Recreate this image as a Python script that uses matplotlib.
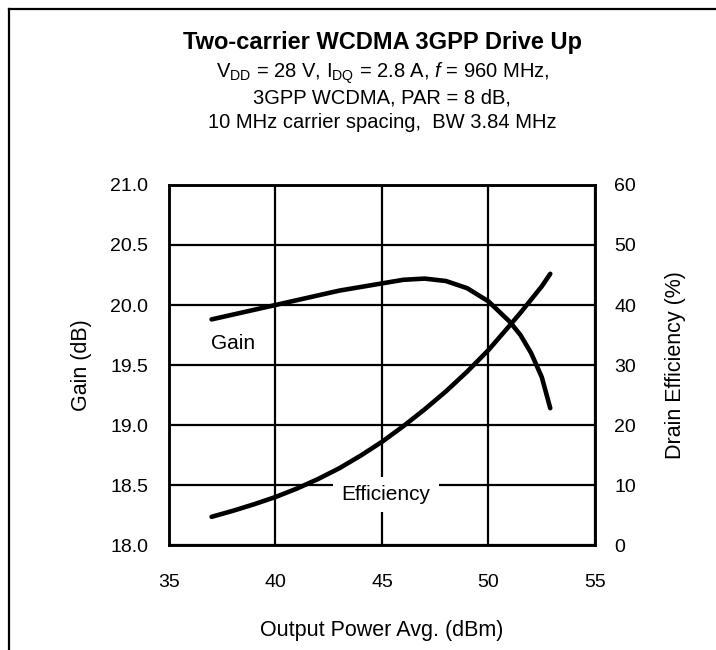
import matplotlib
matplotlib.use("Agg")
import matplotlib.pyplot as plt
from matplotlib.lines import Line2D

plt.rcParams['font.family'] = ['Liberation Sans', 'DejaVu Sans']
plt.rcParams['mathtext.fontset'] = 'custom'
plt.rcParams['mathtext.rm'] = 'Liberation Sans'
plt.rcParams['mathtext.it'] = 'Liberation Sans:italic'

# data
pout = [37, 38, 39, 40, 41, 42, 43, 44, 45, 46, 47, 48, 49, 50, 51, 51.5, 52, 52.5, 52.9]
gain = [19.88, 19.92, 19.96, 20.00, 20.04, 20.08, 20.12, 20.15, 20.18, 20.21, 20.22,
        20.20, 20.14, 20.03, 19.86, 19.75, 19.60, 19.40, 19.14]
eff = [4.7, 5.7, 6.8, 8.0, 9.4, 11.0, 12.8, 14.9, 17.2, 19.8, 22.6, 25.6, 28.9, 32.5,
       36.6, 38.7, 40.9, 43.1, 45.2]

xticks = [35, 40, 45, 50, 55]
gticks = [18.0, 18.5, 19.0, 19.5, 20.0, 20.5, 21.0]
eticks = [0, 10, 20, 30, 40, 50, 60]

fig = plt.figure(figsize=(7.16, 6.5), dpi=100)
ax = fig.add_axes([0.236, 0.1615, 0.595, 0.5539])
ax2 = ax.twinx()

ax.set_xlim(35, 55)
ax.set_ylim(18, 21)
ax2.set_ylim(0, 60)
ax.set_xticks(xticks)
ax.set_yticks(gticks)
ax2.set_yticks(eticks)
ax.set_yticklabels(['%.1f' % v for v in gticks])
ax.grid(True, color='black', linewidth=1.6)
ax.set_axisbelow(True)

for a in (ax, ax2):
    for s in a.spines.values():
        s.set_linewidth(1.8)
ax.tick_params(axis='x', length=0, pad=21, labelsize=14)
ax.tick_params(axis='y', length=0, pad=15, labelsize=14)
ax2.tick_params(axis='y', length=0, pad=14, labelsize=14)

ax.plot(pout, gain, color='black', linewidth=3.3, solid_capstyle='round', zorder=5)
ax2.plot(pout, eff, color='black', linewidth=3.3, solid_capstyle='round', zorder=5)

ax.text(38.0, 19.68, 'Gain', fontsize=15, ha='center', va='center')
ax.text(45.2, 18.42, 'Efficiency', fontsize=15, ha='center', va='center', zorder=3,
        bbox=dict(boxstyle='square,pad=0.4', facecolor='white', edgecolor='none'))

ax.set_xlabel('Output Power Avg. (dBm)', fontsize=15.5)
ax.xaxis.set_label_coords(0.5, -0.208)
ax.set_ylabel('Gain (dB)', fontsize=15.5)
ax.yaxis.set_label_coords(-0.181, 0.5)
ax2.set_ylabel('Drain Efficiency (%)', fontsize=15.5)
ax2.yaxis.set_label_coords(1.164, 0.5)

cx = 0.534
fig.text(cx, 0.935, 'Two-carrier WCDMA 3GPP Drive Up', fontsize=17, fontweight='bold',
         ha='center', va='center')
fig.text(cx, 0.888, r'V$_{\mathrm{DD}}$ = 28 V, I$_{\mathrm{DQ}}$ = 2.8 A, $\mathit{f}$ = 960 MHz,',
         fontsize=14.5, ha='center', va='center')
fig.text(cx, 0.849, '3GPP WCDMA, PAR = 8 dB,', fontsize=14.5, ha='center', va='center')
fig.text(cx, 0.811, '10 MHz carrier spacing,  BW 3.84 MHz', fontsize=14.5, ha='center', va='center')

# outer border (only top and left are visible in the crop)
fig.add_artist(Line2D([0.0126, 1.0], [0.986, 0.986], transform=fig.transFigure,
                      color='black', linewidth=1.6))
fig.add_artist(Line2D([0.0126, 0.0126], [0.0, 0.986], transform=fig.transFigure,
                      color='black', linewidth=1.6))

fig.savefig('out.png', dpi=100)
